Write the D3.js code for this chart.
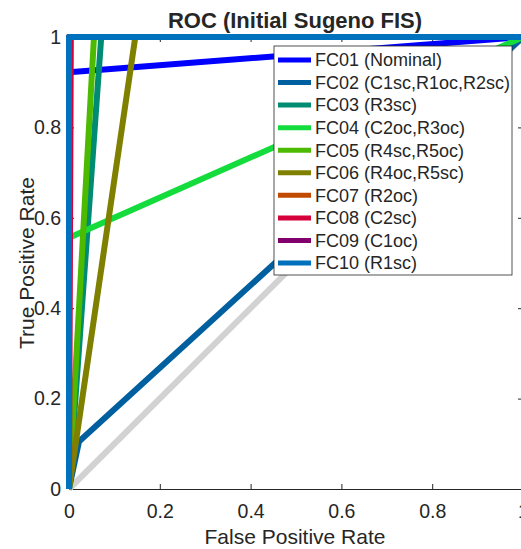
<!DOCTYPE html>
<html>
<head>
<meta charset="utf-8">
<script src="https://cdn.jsdelivr.net/npm/d3@7"></script>
<style>
  body { margin: 0; background: #fff; }
  text { font-family: "Liberation Sans", Arial, sans-serif; fill: #262626; }
</style>
</head>
<body>
<svg id="chart" width="521" height="549"></svg>
<script>
// ROC curves, one per fault case: (fpr, tpr) points
var seriesNames = ["FC01 (Nominal)", "FC02 (C1sc,R1oc,R2sc)", "FC03 (R3sc)", "FC04 (C2oc,R3oc)",
  "FC05 (R4sc,R5oc)", "FC06 (R4oc,R5sc)", "FC07 (R2oc)", "FC08 (C2sc)", "FC09 (C1oc)", "FC10 (R1sc)"];
var seriesColors = ["#0000ff", "#005f9e", "#008c72", "#14dc3c", "#4cba00", "#808000",
  "#c04a00", "#d6003a", "#82006e", "#0072bd"];
var fprPoints = [
  [0, 0, 1], [0, 0.022, 1], [0, 0.071, 1], [0, 0, 1], [0, 0.055, 1],
  [0, 0.146, 1], [0, 0, 1], [0, 0.004, 1], [0, 0, 1], [0, 0, 1]
];
var tprPoints = [
  [0, 0.922, 1], [0, 0.105, 1], [0, 1, 1], [0, 0.556, 1], [0, 1, 1],
  [0, 1, 1], [0, 1, 1], [0, 1, 1], [0, 1, 1], [0, 1, 1]
];
var chanceLine = [0, 1];
var xTicks = [0, 0.2, 0.4, 0.6, 0.8, 1];
var yTicks = [0, 0.2, 0.4, 0.6, 0.8, 1];

var svg = d3.select("#chart");
var x = d3.scaleLinear().domain([0, 1]).range([69, 523]);
var y = d3.scaleLinear().domain([0, 1]).range([489, 37]);
var fmt = function (d) { return d === 0 || d === 1 ? String(d) : d3.format(".1f")(d); };

// axes box with inward ticks
var axisColor = "#262626";
var axes = svg.append("g");
axes.append("g").attr("transform", "translate(0,489)")
  .call(d3.axisBottom(x).tickValues(xTicks).tickSize(-5).tickPadding(15).tickFormat(fmt));
axes.append("g").attr("transform", "translate(69,0)")
  .call(d3.axisLeft(y).tickValues(yTicks).tickSize(-5).tickPadding(8).tickFormat(fmt));
axes.append("g").attr("transform", "translate(0,37)")
  .call(d3.axisTop(x).tickValues(xTicks).tickSize(-5).tickFormat(""));
axes.append("g").attr("transform", "translate(523,0)")
  .call(d3.axisRight(y).tickValues(yTicks).tickSize(-5).tickFormat(""));
axes.selectAll(".domain").attr("stroke", axisColor).attr("stroke-width", 1);
axes.selectAll(".tick line").attr("stroke", axisColor);
axes.selectAll(".tick text").style("font-size", "19.5px").attr("fill", axisColor);

// chance diagonal
var line = d3.line().x(function (d) { return x(d[0]); }).y(function (d) { return y(d[1]); });
svg.append("path")
  .attr("d", line(chanceLine.map(function (v) { return [v, v]; })))
  .attr("fill", "none").attr("stroke", "#d2d2d2").attr("stroke-width", 6);

// ROC curves
seriesNames.forEach(function (name, i) {
  var pts = fprPoints[i].map(function (f, j) { return [f, tprPoints[i][j]]; });
  svg.append("path")
    .attr("d", line(pts))
    .attr("fill", "none")
    .attr("stroke", seriesColors[i])
    .attr("stroke-width", 6)
    .attr("stroke-linejoin", "round");
});

// title and axis labels
svg.append("text").attr("x", 295).attr("y", 28).attr("text-anchor", "middle")
  .style("font-size", "22px").style("font-weight", "bold").attr("fill", "#000")
  .text("ROC (Initial Sugeno FIS)");
svg.append("text").attr("x", 295).attr("y", 544).attr("text-anchor", "middle")
  .style("font-size", "21px").text("False Positive Rate");
svg.append("text").attr("transform", "translate(34,263) rotate(-90)").attr("text-anchor", "middle")
  .style("font-size", "21px").text("True Positive Rate");

// legend
var legend = svg.append("g");
legend.append("rect").attr("x", 274).attr("y", 46).attr("width", 238).attr("height", 229)
  .attr("fill", "#fff").attr("stroke", "#262626").attr("stroke-width", 0.8);
var rowY = d3.scaleLinear().domain([0, seriesNames.length - 1]).range([60, 263]);
seriesNames.forEach(function (name, i) {
  legend.append("line").attr("x1", 278).attr("x2", 311).attr("y1", rowY(i)).attr("y2", rowY(i))
    .attr("stroke", seriesColors[i]).attr("stroke-width", 5);
  legend.append("text").attr("x", 315).attr("y", rowY(i)).attr("dy", "0.35em")
    .style("font-size", "18px").attr("fill", "#000").text(name);
});
</script>
</body>
</html>
